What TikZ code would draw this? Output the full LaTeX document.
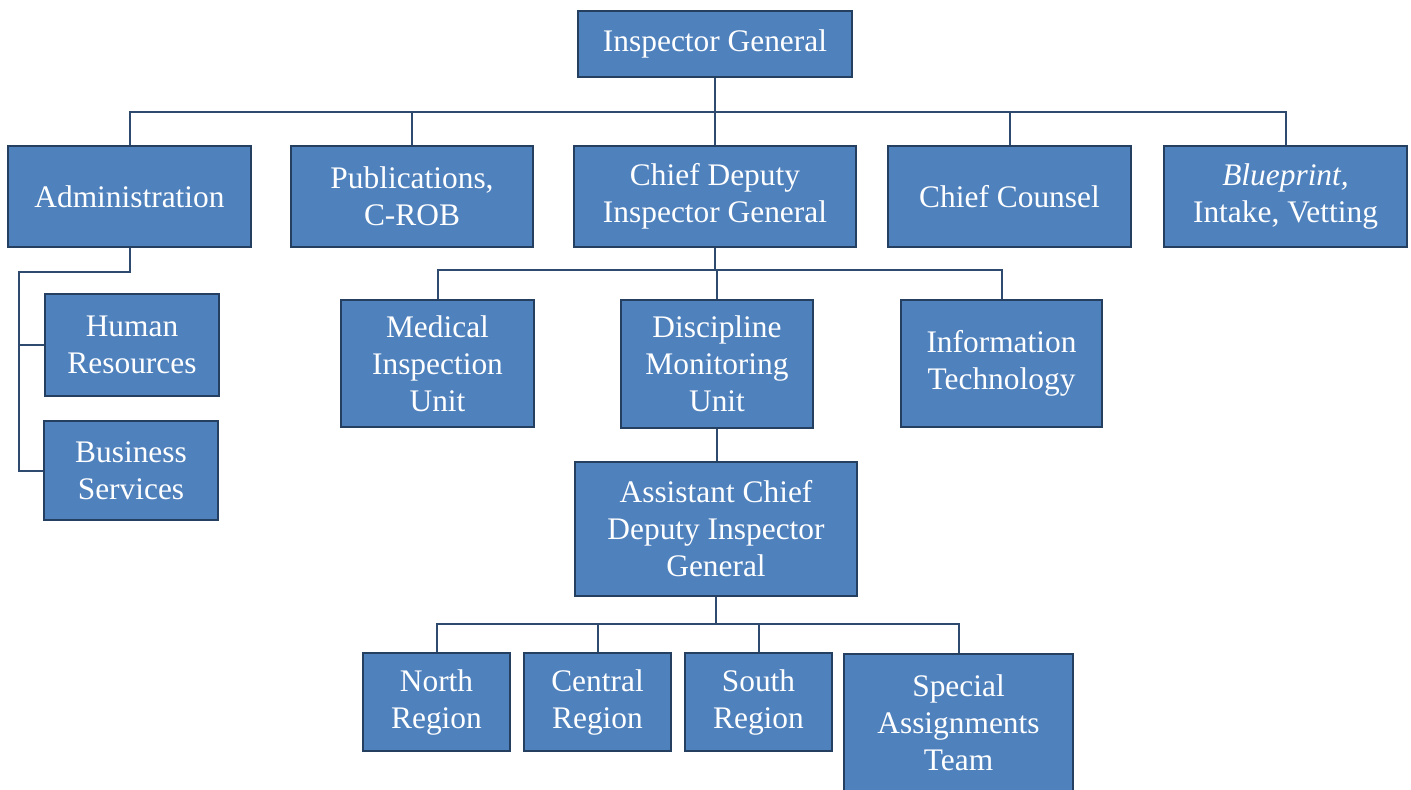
\documentclass[tikz,border=0pt]{standalone}
\usepackage{fontspec}
\setmainfont{Liberation Serif}
\usepackage{tikz}
\usetikzlibrary{positioning}

\definecolor{unitfill}{HTML}{4F81BD}
\definecolor{unitline}{HTML}{243F60}
\definecolor{linkline}{HTML}{2E4A6E}

\begin{document}
\begin{tikzpicture}[
    x=0.5pt, y=-0.5pt,
    unit/.style={rectangle, draw=unitline, line width=1.2pt, fill=unitfill,
        text=white, align=center, inner sep=0pt,
        font=\fontsize{15.7}{18.5}\selectfont},
    link/.style={draw=linkline, line width=1pt}
]
\useasboundingbox (0,0) rectangle (1411,789);

% Top level
\node[unit, minimum width=137pt, minimum height=33pt] (ig) at (715,44) {Inspector General};

% Second row
\node[unit, minimum width=121.5pt, minimum height=50.5pt] (admin) at (129.5,196.5) {Administration};
\node[unit, minimum width=121pt, minimum height=50.5pt] (pubs) at (412,196.5) {Publications,\\C-ROB};
\node[unit, minimum width=141pt, minimum height=50.5pt] (cdig) at (715,196.5) {Chief Deputy\\Inspector General};
\node[unit, minimum width=121.5pt, minimum height=50.5pt] (counsel) at (1009.5,196.5) {Chief Counsel};
\node[unit, minimum width=121.5pt, minimum height=50.5pt] (intake) at (1285.5,196.5) {\textit{Blueprint,}\\Intake, Vetting};

% Administration units
\node[unit, minimum width=87pt, minimum height=51pt] (hr) at (132,345) {Human\\Resources};
\node[unit, minimum width=87pt, minimum height=49.5pt] (bizsvc) at (131,470.5) {Business\\Services};

% Under the chief deputy
\node[unit, minimum width=96.5pt, minimum height=63.5pt] (medical) at (437.5,363.5) {Medical\\Inspection\\Unit};
\node[unit, minimum width=96pt, minimum height=64pt] (dmu) at (717,364) {Discipline\\Monitoring\\Unit};
\node[unit, minimum width=100.5pt, minimum height=63.5pt] (infotech) at (1001.5,363.5) {Information\\Technology};

\node[unit, minimum width=141pt, minimum height=67pt] (acdig) at (716,529) {Assistant Chief\\Deputy Inspector\\General};

% Regions
\node[unit, minimum width=73.5pt, minimum height=49pt] (north) at (436.5,702) {North\\Region};
\node[unit, minimum width=73.5pt, minimum height=49pt] (central) at (597.5,702) {Central\\Region};
\node[unit, minimum width=73.5pt, minimum height=49pt] (south) at (758.5,702) {South\\Region};
\node[unit, minimum width=114.5pt, minimum height=69pt, anchor=north] (special) at (958.5,653) {Special\\Assignments\\Team};

% Connectors
\coordinate (bus) at (715,112);
\draw[link] (ig.south) -- (cdig.north);
\draw[link] (admin.north) |- (bus) -| (intake.north);
\draw[link] (pubs.north) |- (bus);
\draw[link] (counsel.north) |- (bus);

\coordinate (spine) at (19,272);
\draw[link] (admin.south) |- (spine) |- (bizsvc.west);
\draw[link] (spine |- hr.west) -- (hr.west);

\coordinate (cdbus) at (715,270);
\draw[link] (cdig.south) -- (cdbus);
\draw[link] (medical.north) |- (cdbus) -| (infotech.north);
\draw[link] (dmu.north) -- (dmu.north |- cdbus);
\draw[link] (dmu.south) -- (dmu.south |- acdig.north);

\coordinate (rgbus) at (716,624);
\draw[link] (acdig.south) -- (rgbus);
\draw[link] (north.north) |- (rgbus) -| (special.north);
\draw[link] (central.north) -- (central.north |- rgbus);
\draw[link] (south.north) -- (south.north |- rgbus);

\end{tikzpicture}
\end{document}
